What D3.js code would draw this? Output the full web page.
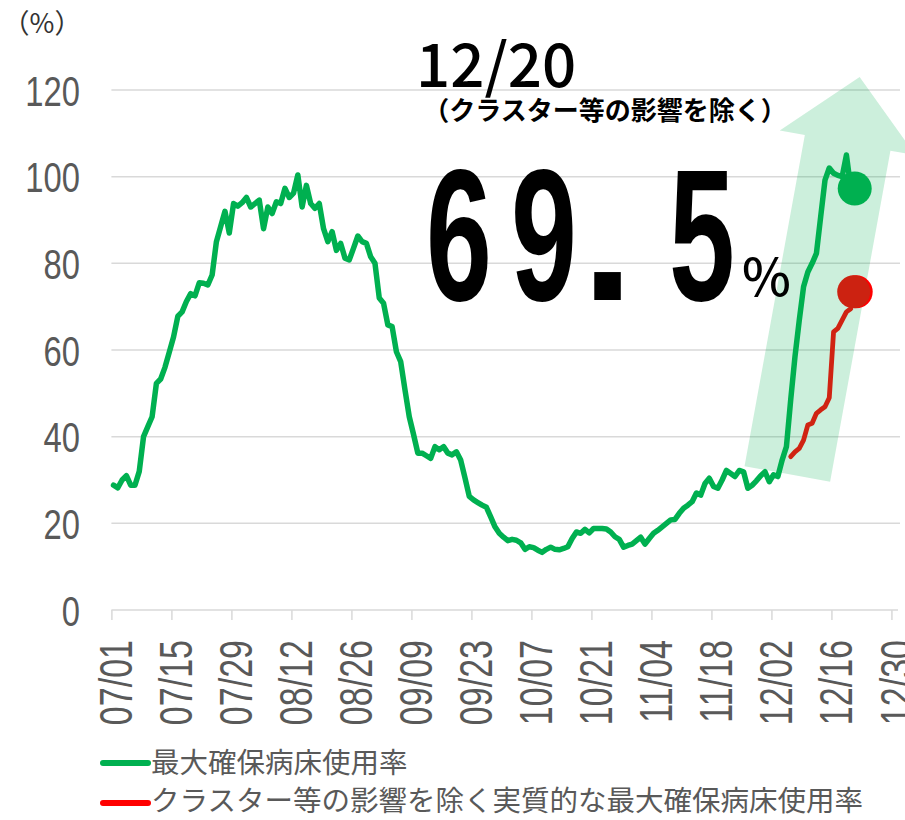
<!DOCTYPE html>
<html>
<head>
<meta charset="utf-8">
<script src="https://cdn.jsdelivr.net/npm/d3@7"></script>
<style>
  body { margin: 0; background: #fff; }
  svg { display: block; }
</style>
</head>
<body>
<svg id="chart" width="905" height="820"></svg>
<script>
// ---------------- DATA ----------------
const year = 2022;
const seriesStart = "07/01";
const xTickLabels = ["07/01","07/15","07/29","08/12","08/26","09/09","09/23","10/07","10/21","11/04","11/18","12/02","12/16","12/30"];
const yTicks = [0, 20, 40, 60, 80, 100, 120];

// 最大確保病床使用率 (daily, from 07/01 to 12/20)
const bedUseRate = [
  28.8, 28.2, 30.0, 31.0, 28.8, 28.8, 32.0, 40.0, 42.3, 44.6,
  52.3, 53.3, 56.0, 59.5, 63.0, 67.8, 68.8, 71.2, 73.0, 72.5,
  75.5, 75.4, 75.0, 77.3, 85.0, 88.5, 92.0, 87.0, 93.8, 93.2,
  94.0, 95.2, 93.0, 93.8, 94.6, 88.0, 93.0, 91.5, 94.2, 93.8,
  97.3, 95.2, 96.2, 100.4, 93.0, 98.0, 93.8, 92.7, 93.8, 88.0,
  85.0, 87.3, 83.0, 84.6, 81.2, 80.8, 83.5, 86.3, 85.0, 84.6,
  81.5, 80.0, 72.0, 70.8, 65.8, 65.4, 59.6, 57.3, 50.8, 44.6,
  40.5, 36.2, 36.2, 35.6, 35.0, 37.7, 37.0, 37.7, 36.2, 35.8,
  36.5, 34.6, 30.5, 26.2, 25.4, 24.8, 24.2, 23.7, 21.5, 19.2,
  17.7, 16.8, 16.0, 16.3, 16.1, 15.5, 14.0, 14.6, 14.4, 13.8,
  13.3, 14.0, 14.5, 14.0, 13.9, 14.2, 14.6, 16.5, 18.0, 17.7,
  18.6, 17.8, 18.8, 18.8, 18.8, 18.7, 18.0, 16.9, 16.3, 14.5,
  14.9, 15.2, 16.0, 16.8, 15.2, 16.5, 17.7, 18.4, 19.2, 20.0,
  20.8, 20.9, 22.3, 23.5, 24.2, 25.0, 27.0, 26.5, 29.2, 30.4,
  28.5, 28.1, 30.0, 32.2, 31.5, 30.8, 32.2, 31.9, 28.1, 28.8,
  29.8, 31.0, 31.9, 29.6, 31.2, 30.8, 34.6, 37.7, 48.5, 58.5,
  66.9, 74.6, 78.0, 80.0, 82.3, 90.8, 99.2, 102.0, 100.8, 100.3,
  100.0, 105.0, 97.5
];

// クラスター等の影響を除く実質的な最大確保病床使用率 (daily, from 12/06 to 12/20)
const adjustedStart = "12/06";
const adjustedRate = [35.4, 36.5, 37.3, 39.2, 42.7, 43.1, 45.4, 46.2, 46.9, 49.0, 64.2, 65.0, 66.9, 68.8, 69.5];

const seriesNames = ["最大確保病床使用率", "クラスター等の影響を除く実質的な最大確保病床使用率"];
const seriesColors = ["#00B050", "#D02312"];
const legendColors = ["#00B050", "#FF0000"];

const unitLabel = "（%）";
const dateLabel = "12/20";
const noteLabel = "（クラスター等の影響を除く）";
const bigValue = ["6", "9", ".", "5"];
const bigUnit = "%";

// ---------------- SETUP ----------------
const parse = d3.timeParse("%Y/%m/%d");
const md = s => parse(`${year}/${s}`);
const svg = d3.select("#chart");

const x = d3.scaleTime()
  .domain([md("07/01"), parse(`${year + 1}/01/01`)])
  .range([111.4, 900]);
const y = d3.scaleLinear().domain([0, 120]).range([610, 90]);

// daily values placed at noon of their day
const toSeries = (start, vals) => vals.map((v, i) => {
  const d = d3.timeDay.offset(md(start), i);
  return { date: d3.timeHour.offset(d, 12), value: v };
});
const green = toSeries(seriesStart, bedUseRate);
const red = toSeries(adjustedStart, adjustedRate);

const gridColor = "#d9d9d9";
const labelColor = "#595959";

// ---------------- GRID ----------------
svg.append("g")
  .selectAll("line")
  .data(yTicks.filter(v => v > 0))
  .join("line")
  .attr("x1", x.range()[0]).attr("x2", x.range()[1])
  .attr("y1", d => y(d)).attr("y2", d => y(d))
  .attr("stroke", gridColor).attr("stroke-width", 1.5);

// ---------------- X AXIS ----------------
const tickDates = xTickLabels.map(md);
const gx = svg.append("g")
  .attr("transform", `translate(0,${y(0)})`)
  .call(d3.axisBottom(x).tickValues(tickDates).tickSize(10).tickSizeOuter(0)
        .tickFormat((d, i) => xTickLabels[i]));
gx.select(".domain").attr("stroke", gridColor).attr("stroke-width", 1.5)
  .attr("d", `M${x.range()[0]},0H${x.range()[1] - 2}`);
gx.selectAll(".tick line").attr("stroke", gridColor).attr("stroke-width", 1.5);
gx.selectAll(".tick text")
  .attr("x", null).attr("y", null).attr("dy", "0.36em")
  .attr("text-anchor", "end")
  .attr("transform", "translate(4,30) rotate(-90) scale(0.74,1)")
  .attr("font-family", "'Liberation Sans', Arial, sans-serif")
  .attr("font-size", 46)
  .attr("fill", labelColor);

// ---------------- ARROW ----------------
const arrowTail = { date: d3.timeHour.offset(md("12/05"), 17), value: 31.4 };
const arrowTip  = { date: d3.timeHour.offset(md("12/22"), 14), value: 123 };
(function drawArrow() {
  const x0 = x(arrowTail.date), y0 = y(arrowTail.value);
  const x1 = x(arrowTip.date),  y1 = y(arrowTip.value);
  const L = Math.hypot(x1 - x0, y1 - y0);
  const ux = (x1 - x0) / L, uy = (y1 - y0) / L;   // along
  const px = -uy, py = ux;                          // perpendicular
  const shaftHalf = 43.5, headHalf = 69, headLen = 67;
  const P = (a, p) => [x0 + ux * a + px * p, y0 + uy * a + py * p];
  const pts = [
    P(0, -shaftHalf), P(L - headLen, -shaftHalf), P(L - headLen, -headHalf),
    P(L, 0),
    P(L - headLen, headHalf), P(L - headLen, shaftHalf), P(0, shaftHalf)
  ];
  svg.append("polygon")
    .attr("points", pts.map(p => p.join(",")).join(" "))
    .attr("fill", "rgba(0,176,80,0.2)");
})();

// ---------------- LINES ----------------
const line = d3.line().x(d => x(d.date)).y(d => y(d.value));
svg.append("path").datum(green)
  .attr("d", line).attr("fill", "none")
  .attr("stroke", seriesColors[0]).attr("stroke-width", 5.5)
  .attr("stroke-linejoin", "round").attr("stroke-linecap", "round");
svg.append("path").datum(red)
  .attr("d", line).attr("fill", "none")
  .attr("stroke", seriesColors[1]).attr("stroke-width", 4.8)
  .attr("stroke-linejoin", "round").attr("stroke-linecap", "round");

// end markers
const gLast = green[green.length - 1], rLast = red[red.length - 1];
svg.append("circle")
  .attr("cx", x(gLast.date) + 4).attr("cy", y(gLast.value) + 1)
  .attr("r", 17).attr("fill", seriesColors[0]);
svg.append("circle")
  .attr("cx", x(rLast.date) + 5.5).attr("cy", y(rLast.value) - 17)
  .attr("r", 16.5).attr("fill", "#FF0000");
svg.append("circle")
  .attr("cx", x(rLast.date) + 3).attr("cy", y(rLast.value) - 17)
  .attr("r", 16.5).attr("fill", "#CC2211");

// ---------------- Y AXIS LABELS ----------------
const gy = svg.append("g").attr("transform", "translate(80,0)")
  .call(d3.axisLeft(y).tickValues(yTicks).tickSize(0).tickPadding(0));
gy.select(".domain").remove();
gy.selectAll(".tick text")
  .attr("x", null).attr("dy", "0.36em")
  .attr("transform", "scale(0.78,1)")
  .attr("font-family", "'Liberation Sans', Arial, sans-serif")
  .attr("font-size", 42)
  .attr("fill", labelColor);

// unit
svg.append("text")
  .attr("x", 42).attr("y", 33).attr("text-anchor", "middle")
  .attr("font-family", "'Noto Sans CJK JP', sans-serif")
  .attr("font-size", 27).attr("fill", "#333")
  .text(unitLabel);

// ---------------- ANNOTATION ----------------
svg.append("text")
  .attr("x", 416).attr("y", 87)
  .attr("font-family", "'Noto Sans CJK JP', sans-serif")
  .attr("font-weight", 500).attr("font-size", 60).attr("fill", "#000")
  .text(dateLabel);
svg.append("text")
  .attr("x", 605).attr("y", 120).attr("text-anchor", "middle")
  .attr("font-family", "'Noto Sans CJK JP', sans-serif")
  .attr("font-weight", 700).attr("font-size", 26).attr("fill", "#000")
  .text(noteLabel);

const bigCenters = [459, 544, 607.5, 702];
const bigScale = [0.63, 0.63, 1, 0.63];
svg.append("g").selectAll("text").data(bigValue).join("text")
  .attr("transform", (d, i) => `translate(${bigCenters[i]},300) scale(${bigScale[i]},1)`)
  .attr("text-anchor", "middle")
  .attr("font-family", "'Liberation Sans', Arial, sans-serif")
  .attr("font-weight", 700).attr("font-size", 188).attr("fill", "#000")
  .text(d => d);
svg.append("text")
  .attr("x", 742).attr("y", 296)
  .attr("font-family", "'Noto Sans CJK JP', sans-serif")
  .attr("font-weight", 500).attr("font-size", 52).attr("fill", "#000")
  .text(bigUnit);

// ---------------- LEGEND ----------------
const legendY = [763, 801];
const lg = svg.append("g");
seriesNames.forEach((name, i) => {
  lg.append("line")
    .attr("x1", 103).attr("x2", 148)
    .attr("y1", legendY[i] + (i ? 2 : 0)).attr("y2", legendY[i] + (i ? 2 : 0))
    .attr("stroke", legendColors[i]).attr("stroke-width", 6)
    .attr("stroke-linecap", "round");
  lg.append("text")
    .attr("x", 151).attr("y", legendY[i]).attr("dy", "0.35em")
    .attr("font-family", "'Noto Sans CJK JP', sans-serif")
    .attr("font-size", 28.5).attr("fill", labelColor)
    .text(name);
});
</script>
</body>
</html>
